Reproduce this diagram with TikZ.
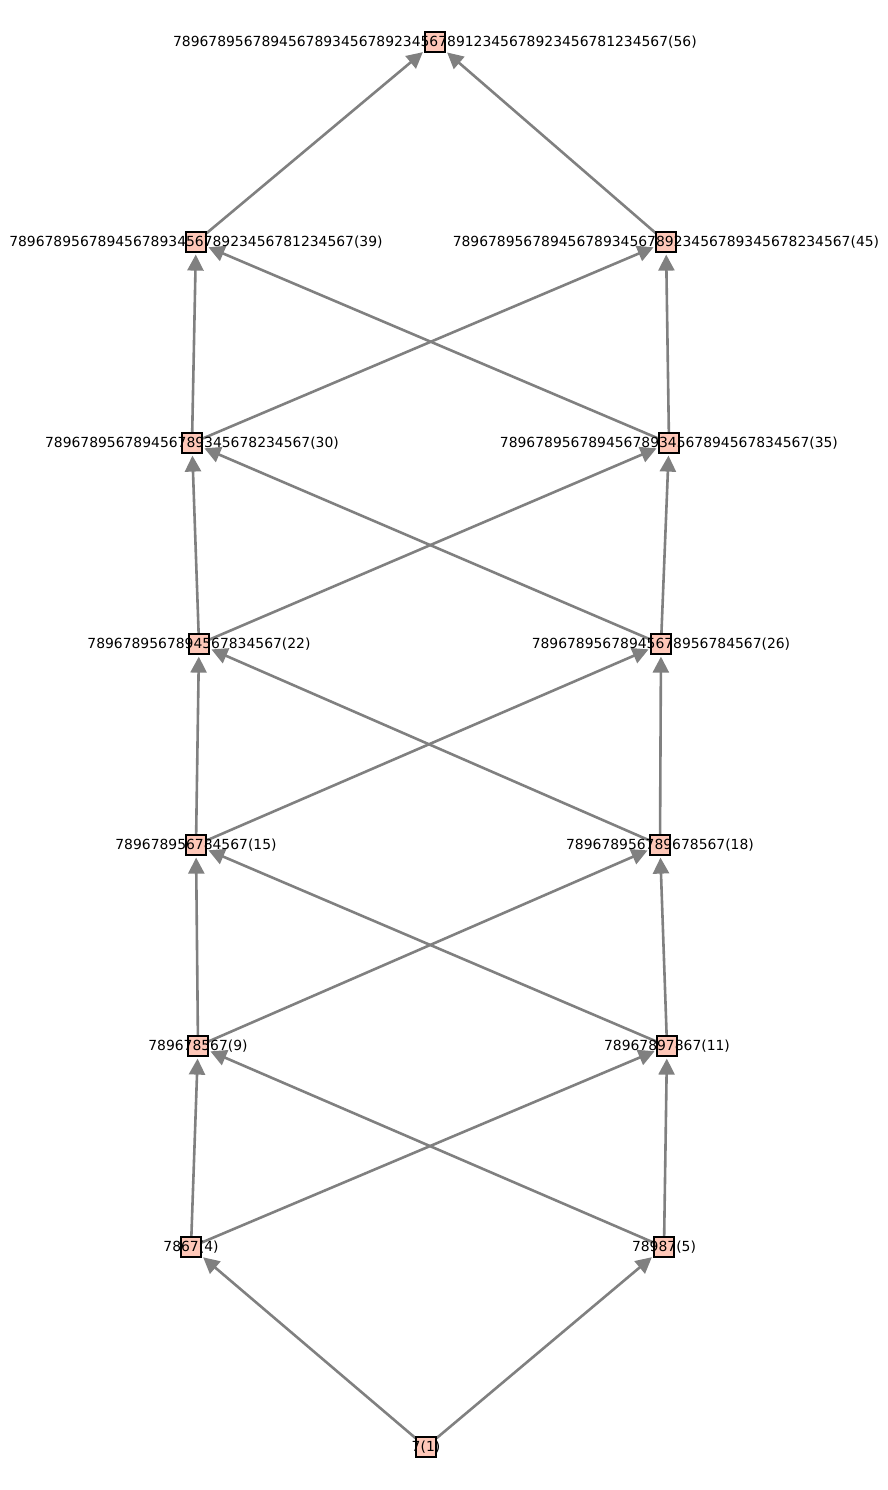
\documentclass[tikz,border=0pt]{standalone}
\usepackage{fontspec}
\setmainfont{DejaVu Sans}
\definecolor{VertexPink}{HTML}{FEC7B8}
\definecolor{EdgeGray}{RGB}{128, 128, 128}
\usetikzlibrary{arrows.meta, backgrounds}

\begin{document}
\begin{tikzpicture}[x=1pt, y=-1pt,
    every node/.style={font=\fontsize{13.9}{16}\selectfont},
    vertex/.style={draw=black, fill=VertexPink, rectangle, minimum size=20pt, inner sep=0pt, line width=1.2pt},
    edge/.style={-{Triangle[length=16pt, width=16pt]}, EdgeGray, line width=2.6pt, shorten >=2pt}]
    \useasboundingbox (0,0) rectangle (888,1490);

    \node[vertex, label={center:7(1)}] (v1) at (426,1447) {};
    \node[vertex, label={center:7867(4)}] (v4) at (191,1247) {};
    \node[vertex, label={center:78987(5)}] (v5) at (664,1247) {};
    \node[vertex, label={center:789678567(9)}] (v9) at (198,1046) {};
    \node[vertex, label={center:78967897867(11)}] (v11) at (667,1046) {};
    \node[vertex, label={center:789678956784567(15)}] (v15) at (196,845) {};
    \node[vertex, label={center:789678956789678567(18)}] (v18) at (660,845) {};
    \node[vertex, label={center:7896789567894567834567(22)}] (v22) at (199,644) {};
    \node[vertex, label={center:78967895678945678956784567(26)}] (v26) at (661,644) {};
    \node[vertex, label={center:789678956789456789345678234567(30)}] (v30) at (192,443) {};
    \node[vertex, label={center:78967895678945678934567894567834567(35)}] (v35) at (669,443) {};
    \node[vertex, label={center:789678956789456789345678923456781234567(39)}] (v39) at (196,242) {};
    \node[vertex, label={center:789678956789456789345678923456789345678234567(45)}] (v45) at (666,242) {};
    \node[vertex, label={center:78967895678945678934567892345678912345678923456781234567(56)}] (v56) at (435,42) {};

    \begin{scope}[on background layer]
        \draw[edge] (v1) -- (v4);
        \draw[edge] (v1) -- (v5);
        \draw[edge] (v4) -- (v9);
        \draw[edge] (v4) -- (v11);
        \draw[edge] (v5) -- (v9);
        \draw[edge] (v5) -- (v11);
        \draw[edge] (v9) -- (v15);
        \draw[edge] (v9) -- (v18);
        \draw[edge] (v11) -- (v15);
        \draw[edge] (v11) -- (v18);
        \draw[edge] (v15) -- (v22);
        \draw[edge] (v15) -- (v26);
        \draw[edge] (v18) -- (v22);
        \draw[edge] (v18) -- (v26);
        \draw[edge] (v22) -- (v30);
        \draw[edge] (v22) -- (v35);
        \draw[edge] (v26) -- (v30);
        \draw[edge] (v26) -- (v35);
        \draw[edge] (v30) -- (v39);
        \draw[edge] (v30) -- (v45);
        \draw[edge] (v35) -- (v39);
        \draw[edge] (v35) -- (v45);
        \draw[edge] (v39) -- (v56);
        \draw[edge] (v45) -- (v56);
    \end{scope}
\end{tikzpicture}
\end{document}
